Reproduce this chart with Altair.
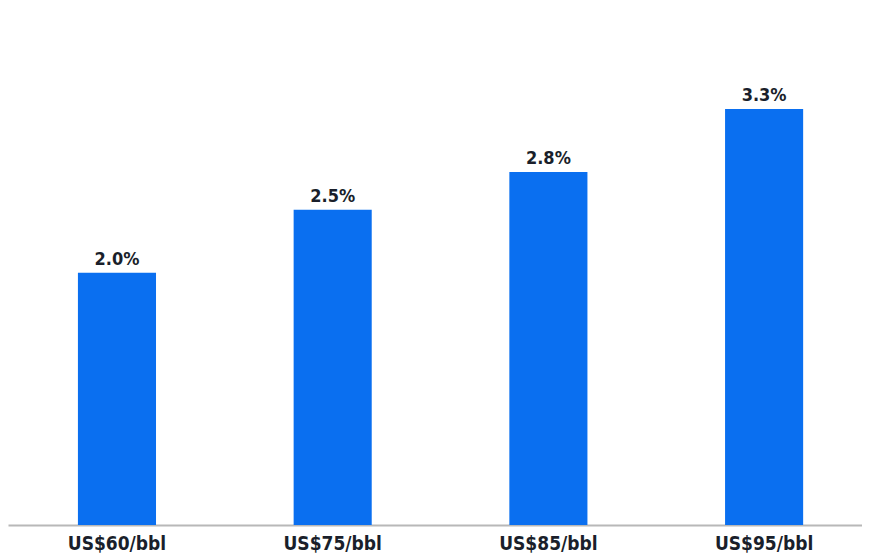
import altair as alt
import pandas as pd

categories = ["US$60/bbl", "US$75/bbl", "US$85/bbl", "US$95/bbl"]
values = [2.0, 2.5, 2.8, 3.3]
labels = ["2.0%", "2.5%", "2.8%", "3.3%"]

df = pd.DataFrame({"cat": categories, "val": values, "lab": labels})

FONT = "DejaVu Sans Condensed"

x = alt.X("cat:N", sort=categories,
          scale=alt.Scale(paddingInner=0.638, paddingOuter=0.2985, align=0.543),
          axis=alt.Axis(title=None, labelAngle=0, labelFontSize=19, labelFontWeight="bold",
                        labelColor="#1a1f2b", labelFont=FONT,
                        labelPadding=9, ticks=False, domainColor="#b8b8b8",
                        domainWidth=2, grid=False))
y = alt.Y("val:Q", scale=alt.Scale(domain=[0, 4.1], nice=False), axis=None)

bars = alt.Chart(df).mark_bar(color="#0a6ff0").encode(x=x, y=y)
text = alt.Chart(df).mark_text(dy=-4, fontSize=18, fontWeight="bold", color="#1a1f2b",
                               font=FONT, baseline="bottom").encode(
    x=x, y=y, text="lab:N")

chart = (bars + text).properties(width=854, height=517, padding=0).configure_view(stroke=None)
chart.save("out.html", embed_options={"renderer": "svg", "actions": False})
